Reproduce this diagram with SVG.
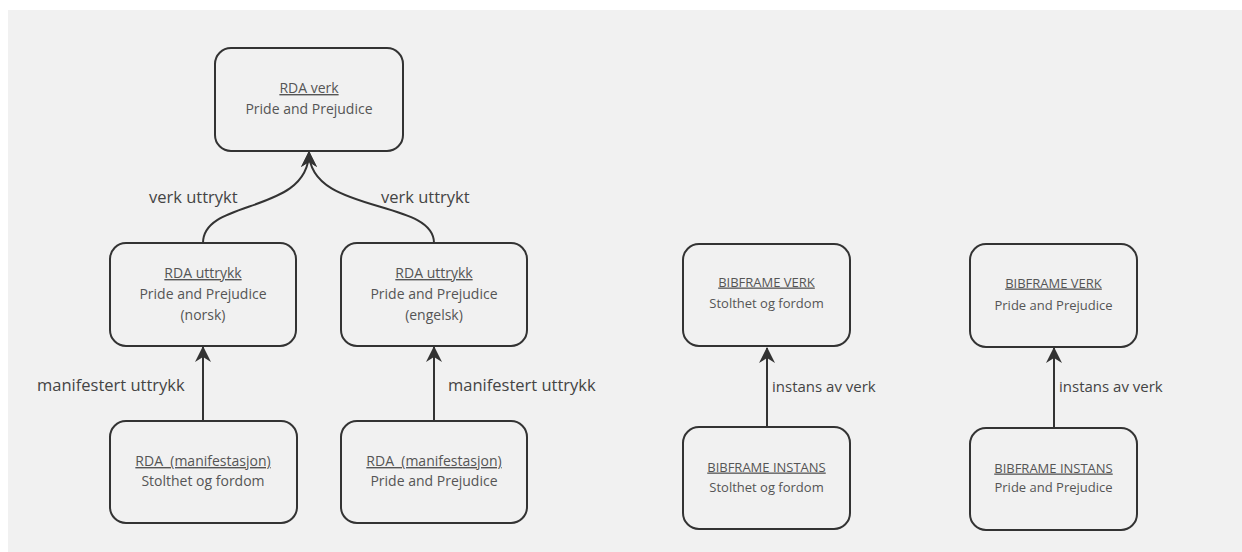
<svg xmlns="http://www.w3.org/2000/svg" width="1242" height="552" viewBox="0 0 1242 552">
<defs>
<style>
.node rect{fill:none;stroke:#333;stroke-width:2}
.t{font-family:"Open Sans","Noto Sans","DejaVu Sans",sans-serif;font-size:14px;fill:#555;text-anchor:middle}
.b{font-size:13px}
.u{text-decoration:underline}
.lbl{font-family:"Open Sans","Noto Sans","DejaVu Sans",sans-serif;font-size:16.5px;fill:#444}
.lbl2{font-size:15px}
.edge{fill:none;stroke:#333;stroke-width:2}
</style>
<marker id="ah" markerUnits="userSpaceOnUse" markerWidth="16" markerHeight="16" viewBox="0 0 16 16" refX="15" refY="8" orient="auto">
<path d="M0,0 L16,8 L0,16 L5,8 z" fill="#333"/>
</marker>
</defs>
<rect x="0" y="0" width="1242" height="552" fill="#fff"/>
<rect x="8" y="10" width="1234" height="542" fill="#f1f1f1"/>

<g id="connectors">
<path class="edge" d="M203,243 C203,198 309,215 309,152" marker-end="url(#ah)"/>
<path class="edge" d="M434,243 C434,198 309,215 309,152" marker-end="url(#ah)"/>
<path class="edge" d="M203,421 L203,347" marker-end="url(#ah)"/>
<path class="edge" d="M434,421 L434,347" marker-end="url(#ah)"/>
<path class="edge" d="M767,427 L767,348" marker-end="url(#ah)"/>
<path class="edge" d="M1054,428 L1054,348" marker-end="url(#ah)"/>
<text class="lbl" x="149" y="203">verk uttrykt</text>
<text class="lbl" x="381" y="203">verk uttrykt</text>
<text class="lbl" x="37" y="391">manifestert uttrykk</text>
<text class="lbl" x="448" y="391">manifestert uttrykk</text>
<text class="lbl lbl2" x="772" y="392">instans av verk</text>
<text class="lbl lbl2" x="1059" y="392">instans av verk</text>
</g>

<g id="rda-verk" class="node">
<rect x="215" y="48" width="188" height="103" rx="16"/>
<text class="t u" x="309" y="93">RDA verk</text>
<text class="t" x="309" y="114">Pride and Prejudice</text>
</g>
<g id="rda-uttrykk-norsk" class="node">
<rect x="110" y="243" width="186" height="103" rx="16"/>
<text class="t u" x="203" y="278">RDA uttrykk</text>
<text class="t" x="203" y="299">Pride and Prejudice</text>
<text class="t" x="203" y="320">(norsk)</text>
</g>
<g id="rda-uttrykk-engelsk" class="node">
<rect x="341" y="243" width="186" height="103" rx="16"/>
<text class="t u" x="434" y="278">RDA uttrykk</text>
<text class="t" x="434" y="299">Pride and Prejudice</text>
<text class="t" x="434" y="320">(engelsk)</text>
</g>
<g id="rda-manifestasjon-norsk" class="node">
<rect x="110" y="421" width="187" height="102" rx="16"/>
<text class="t u" x="203" y="466" xml:space="preserve">RDA  (manifestasjon)</text>
<text class="t" x="203" y="486">Stolthet og fordom</text>
</g>
<g id="rda-manifestasjon-engelsk" class="node">
<rect x="341" y="421" width="186" height="102" rx="16"/>
<text class="t u" x="434" y="466" xml:space="preserve">RDA  (manifestasjon)</text>
<text class="t" x="434" y="486">Pride and Prejudice</text>
</g>
<g id="bf-verk-1" class="node">
<rect x="683" y="244" width="167" height="102" rx="16"/>
<text class="t b u" x="766.5" y="286.5">BIBFRAME VERK</text>
<text class="t b" x="766.5" y="307.5">Stolthet og fordom</text>
</g>
<g id="bf-instans-1" class="node">
<rect x="683" y="427" width="167" height="102" rx="16"/>
<text class="t b u" x="766.5" y="471.5">BIBFRAME INSTANS</text>
<text class="t b" x="766.5" y="491.5">Stolthet og fordom</text>
</g>
<g id="bf-verk-2" class="node">
<rect x="970" y="244" width="167" height="103" rx="16"/>
<text class="t b u" x="1053.5" y="287.5">BIBFRAME VERK</text>
<text class="t b" x="1053.5" y="309.5">Pride and Prejudice</text>
</g>
<g id="bf-instans-2" class="node">
<rect x="970" y="428" width="167" height="102" rx="16"/>
<text class="t b u" x="1053.5" y="472.5">BIBFRAME INSTANS</text>
<text class="t b" x="1053.5" y="491.5">Pride and Prejudice</text>
</g>
</svg>
